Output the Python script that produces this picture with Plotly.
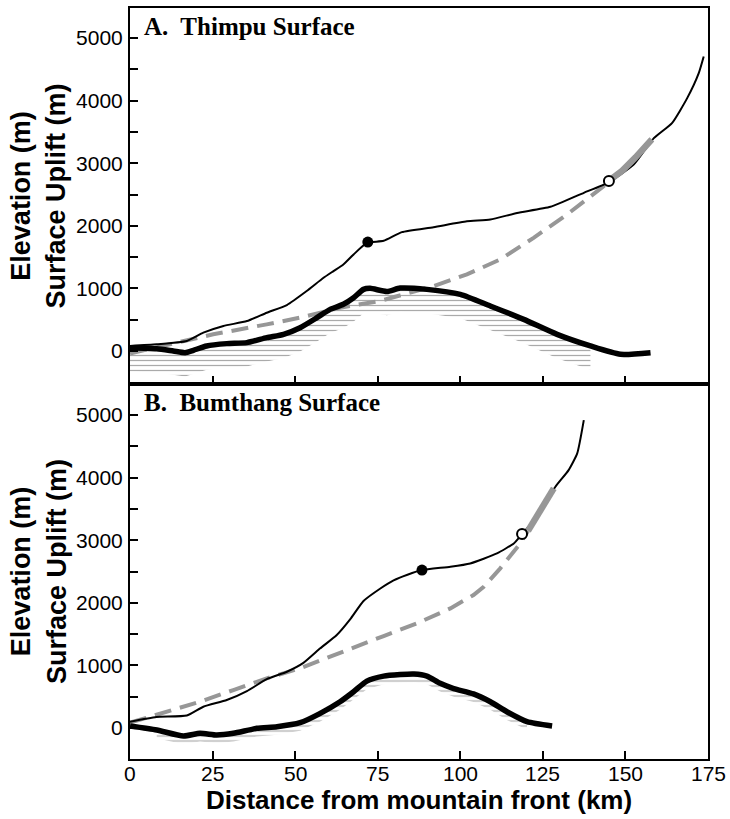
import plotly.graph_objects as go

# ---------------- data (km, m) ----------------
# Panel A: Thimpu surface
a_elev_x = [0, 8.1, 17.2, 22.2, 28.3, 35.4, 41.4, 47.5, 53.5, 58.6, 61.6, 64.6, 67.7, 71.7,
            76.8, 82.3, 91.9, 102, 109.1, 117.2, 127.3, 137.4, 144.9, 152.5, 158.6, 164.1,
            168.7, 172.2, 173.7]
a_elev_y = [80, 106, 160, 292, 399, 478, 611, 734, 957, 1169, 1276, 1382, 1542, 1727,
            1760, 1898, 1978, 2073, 2100, 2206, 2303, 2527, 2695, 2977, 3400, 3641,
            4040, 4439, 4705]
a_river_x = [0, 8.1, 13.1, 16.7, 19.2, 23.2, 29.3, 35.4, 41.4, 46.5, 51.5, 56.6, 60.6, 64.6,
             67.7, 70.7, 72.7, 77.8, 81.8, 89.9, 100, 109.1, 119.2, 129.3, 139.4, 148.5, 157.6]
a_river_y = [53, 37, 0, -27, 11, 80, 117, 133, 213, 266, 372, 532, 665, 745,
             850, 984, 1000, 950, 1005, 984, 904, 718, 505, 265, 80, -53, -27]
a_uplift_x = [0, 14.1, 25.2, 41.4, 51.5, 63.6, 75.8, 91.9, 102, 112.1, 122.2, 132.3, 143.4, 145.5]
a_uplift_y = [-40, 133, 266, 425, 532, 691, 800, 1037, 1223, 1462, 1808, 2180, 2632, 2740]
a_proj_x = [145.5, 149, 153, 158]
a_proj_y = [2740, 2880, 3090, 3380]
a_closed = (72, 1740)
a_open = (145, 2715)

# Panel B: Bumthang surface
b_elev_x = [0, 8, 17.2, 22.2, 29.3, 35.4, 41.4, 47.5, 52.5, 57.6, 62.6, 66.7, 70.7, 75.8,
            79.8, 84, 88.4, 97, 103, 111.1, 116.2, 118.7, 123.2, 128.8, 132.8, 135.4, 137.4]
b_elev_y = [101, 176, 200, 340, 447, 590, 780, 899, 1040, 1273, 1486, 1740, 2030, 2230,
            2360, 2450, 2524, 2577, 2630, 2790, 2950, 3099, 3376, 3855, 4121, 4388, 4920]
b_river_x = [0, 8.1, 16.2, 21.2, 26.3, 31.3, 38.4, 44.5, 51.5, 57.6, 63.6, 67.7, 71.7, 76.8,
             81.8, 86, 89.9, 93.9, 98, 104, 109.1, 114.1, 120.2, 127.8]
b_river_y = [32, -32, -128, -85, -112, -85, -5, 21, 85, 235, 420, 580, 750, 830,
             855, 863, 830, 714, 630, 545, 420, 260, 101, 32]
b_uplift_x = [0, 11.1, 21.2, 31.3, 41.4, 51.5, 61.6, 71.7, 76.8, 81.8, 86.9, 97, 104, 107.1,
              112.1, 118.2, 120.5]
b_uplift_y = [85, 260, 420, 607, 794, 954, 1166, 1379, 1470, 1570, 1672, 1912, 2125, 2258,
              2551, 2950, 3150]
b_proj_x = [120.5, 124, 128.3]
b_proj_y = [3150, 3460, 3829]
b_closed = (88.4, 2524)
b_open = (118.7, 3099)

x_ticks = [0, 25, 50, 75, 100, 125, 150, 175]
y_ticks = [0, 500, 1000, 1500, 2000, 2500, 3000, 3500, 4000, 4500, 5000]

# hatch depth below the river profile (m) and its x-extent
a_hatch_depth, a_hatch_xmax = 380, 140
b_hatch_depth, b_hatch_xmin, b_hatch_xmax = 130, 3, 126

GRAY = "#979797"
fig = go.Figure()


def hatch(xs, ys, depth, xmin, xmax, xa, ya):
    px = [x for x in xs if xmin <= x <= xmax]
    py = [y for x, y in zip(xs, ys) if xmin <= x <= xmax]
    lx = px[::-1]
    ly = [y - depth for y in py[::-1]]
    fig.add_trace(go.Scatter(
        x=px + lx, y=py + ly, fill="toself", mode="lines",
        line=dict(width=0, color="rgba(0,0,0,0)"),
        fillcolor="rgba(0,0,0,0)",
        fillpattern=dict(shape="-", fgcolor="#555555", bgcolor="rgba(255,255,255,0)",
                         size=5, solidity=0.25),
        xaxis=xa, yaxis=ya, hoverinfo="skip"))


def panel(ex, ey, rx, ry, ux, uy, qx, qy, closed, opn, xa, ya):
    fig.add_trace(go.Scatter(x=ux, y=uy, mode="lines",
                             line=dict(color=GRAY, width=4, dash="17px,9px"),
                             xaxis=xa, yaxis=ya))
    fig.add_trace(go.Scatter(x=ex, y=ey, mode="lines",
                             line=dict(color="black", width=2, shape="spline", smoothing=0.5),
                             xaxis=xa, yaxis=ya))
    fig.add_trace(go.Scatter(x=qx, y=qy, mode="lines",
                             line=dict(color=GRAY, width=6.5),
                             xaxis=xa, yaxis=ya))
    fig.add_trace(go.Scatter(x=rx, y=ry, mode="lines",
                             line=dict(color="black", width=5.5, shape="spline", smoothing=0.6),
                             xaxis=xa, yaxis=ya))
    fig.add_trace(go.Scatter(x=[closed[0]], y=[closed[1]], mode="markers",
                             marker=dict(size=11, color="black"),
                             xaxis=xa, yaxis=ya))
    fig.add_trace(go.Scatter(x=[opn[0]], y=[opn[1]], mode="markers",
                             marker=dict(size=10, color="white",
                                         line=dict(color="black", width=2)),
                             xaxis=xa, yaxis=ya))


hatch(a_river_x, a_river_y, a_hatch_depth, 0, a_hatch_xmax, "x", "y")
panel(a_elev_x, a_elev_y, a_river_x, a_river_y, a_uplift_x, a_uplift_y,
      a_proj_x, a_proj_y, a_closed, a_open, "x", "y")
hatch(b_river_x, b_river_y, b_hatch_depth, b_hatch_xmin, b_hatch_xmax, "x2", "y2")
panel(b_elev_x, b_elev_y, b_river_x, b_river_y, b_uplift_x, b_uplift_y,
      b_proj_x, b_proj_y, b_closed, b_open, "x2", "y2")

tickfont = dict(family="Liberation Sans, Arial, sans-serif", size=21, color="black")
xcommon = dict(range=[0, 175], tickvals=x_ticks, ticks="inside", ticklen=8, tickwidth=2,
               tickcolor="black", showline=True, linewidth=2, linecolor="black",
               mirror=True, showgrid=False, zeroline=False, tickfont=tickfont,
               showticklabels=False)
ycommon = dict(tickvals=y_ticks,
               ticktext=[str(v) if v % 1000 == 0 else "" for v in y_ticks],
               ticks="inside", ticklen=8, tickwidth=2, tickcolor="black",
               showline=True, linewidth=2, linecolor="black", mirror=True,
               showgrid=False, zeroline=False, tickfont=tickfont, ticklabelstandoff=1)

fig.update_layout(
    width=730, height=819,
    margin=dict(l=130, r=22, t=6, b=60),
    paper_bgcolor="white", plot_bgcolor="white",
    showlegend=False,
    xaxis=dict(xcommon, domain=[0, 1], anchor="y"),
    yaxis=dict(ycommon, domain=[0.5, 1], anchor="x", range=[-520, 5480]),
    xaxis2=dict(xcommon, domain=[0, 1], anchor="y2"),
    yaxis2=dict(ycommon, domain=[0, 0.5], anchor="x2", range=[-495, 5505]),
)

# x tick labels of the lower panel, set close under the axis as in the original
for v in x_ticks:
    fig.add_annotation(text=str(v), xref="x2", yref="paper", x=v, y=-0.003,
                       xanchor="center", yanchor="top", showarrow=False, font=tickfont,
                       borderpad=0)

serif = dict(family="Liberation Serif, Times New Roman, serif", size=25, color="black")
sans_b = dict(family="Liberation Sans, Arial, sans-serif", size=27, color="black")
sans_bx = dict(family="Liberation Sans, Arial, sans-serif", size=26, color="black")
ytitle = "<b>Elevation (m)</b><br><b>Surface Uplift (m)</b>"
fig.add_annotation(text="<b>A.\u00a0 Thimpu Surface</b>", xref="x domain", yref="y domain",
                   x=0.02, y=0.992, xanchor="left", yanchor="top", showarrow=False, font=serif)
fig.add_annotation(text="<b>B.\u00a0 Bumthang Surface</b>", xref="x2 domain", yref="y2 domain",
                   x=0.02, y=0.992, xanchor="left", yanchor="top", showarrow=False, font=serif)
fig.add_annotation(text=ytitle, xref="paper", yref="y domain", x=-0.158, y=0.5,
                   xanchor="center", yanchor="middle", textangle=-90, showarrow=False,
                   font=sans_b)
fig.add_annotation(text=ytitle, xref="paper", yref="y2 domain", x=-0.158, y=0.5,
                   xanchor="center", yanchor="middle", textangle=-90, showarrow=False,
                   font=sans_b)
fig.add_annotation(text="<b>Distance from mountain front (km)</b>", xref="paper", yref="paper",
                   x=0.5, y=-0.055, xanchor="center", yanchor="middle", showarrow=False,
                   font=sans_bx, borderpad=0)

fig.write_html("out.html")
